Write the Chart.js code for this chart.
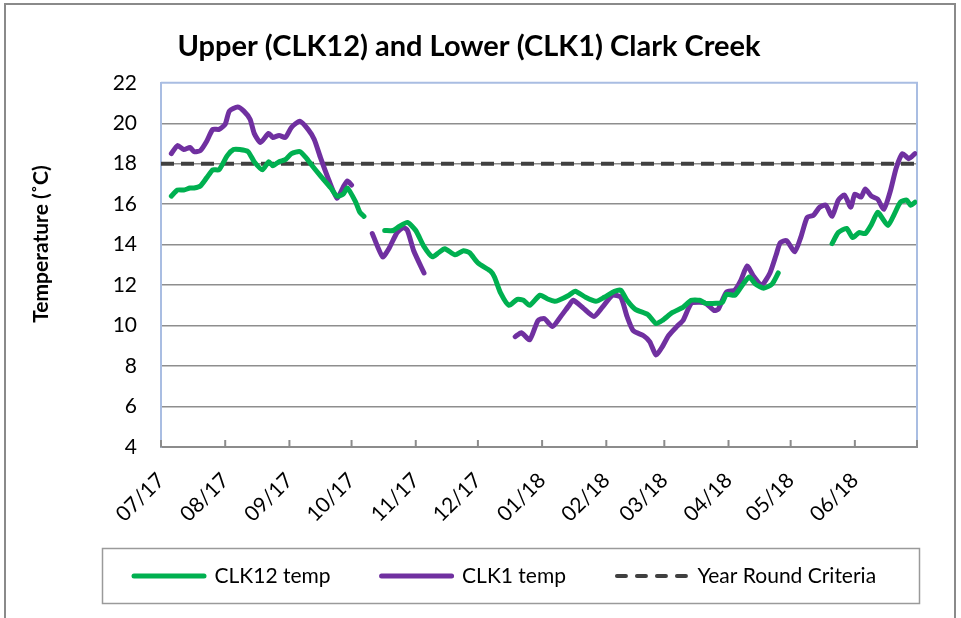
<!DOCTYPE html>
<html>
<head>
<meta charset="utf-8">
<script src="https://cdn.jsdelivr.net/npm/chart.js@4.4.1/dist/chart.umd.min.js"></script>
<style>
  html, body { margin: 0; padding: 0; background: #fff; }
</style>
</head>
<body>
<canvas id="myChart" width="961" height="618"></canvas>
<script>
// x values are days since 07/01/2017, null temp = gap in the record
const monthLabels = ['07/17', '08/17', '09/17', '10/17', '11/17', '12/17', '01/18', '02/18', '03/18', '04/18', '05/18', '06/18', ''];
const monthStarts = [0, 31, 62, 92, 123, 153, 184, 215, 243, 274, 304, 335, 365];

const clk12Days = [5, 8, 11, 14, 16, 19, 22, 25, 28, 32, 35, 38, 42, 45, 49, 52, 54, 57, 60, 63, 67, 70, 73, 77, 82, 85, 88, 90, 94, 96, 98,
  103,
  108, 112, 115, 119, 123, 127, 131, 134, 137, 142, 146, 149, 153, 159, 161, 164, 168, 172, 175, 178, 183, 187, 190, 192, 197, 200,
  205, 210, 214, 219, 222, 225, 229, 235, 239, 242, 247, 252, 256, 260, 263, 268, 271, 273, 277, 280, 284, 287, 291, 295, 298,
  310,
  324, 327, 331, 334, 337, 340, 343, 346, 348, 351, 354, 357, 360, 362, 364];
const clk12Temp = [16.4, 16.7, 16.7, 16.8, 16.8, 16.9, 17.3, 17.7, 17.7, 18.4, 18.7, 18.7, 18.6, 18.1, 17.7, 18.1, 17.9, 18.1, 18.2, 18.5, 18.6, 18.3, 17.9, 17.4, 16.8, 16.4, 16.5, 16.8, 16.1, 15.6, 15.4,
  null,
  14.7, 14.7, 14.9, 15.1, 14.7, 13.9, 13.4, 13.6, 13.8, 13.5, 13.7, 13.6, 13.1, 12.7, 12.4, 11.6, 11.0, 11.3, 11.25, 11.0, 11.5, 11.3, 11.2, 11.25, 11.5, 11.7,
  11.4, 11.2, 11.4, 11.7, 11.75, 11.25, 10.8, 10.55, 10.1, 10.25, 10.65, 10.9, 11.25, 11.25, 11.1, 11.1, 11.15, 11.55, 11.5, 11.9, 12.4, 12.05, 11.85, 12.05, 12.6,
  null,
  14.05, 14.6, 14.8, 14.35, 14.6, 14.55, 15.0, 15.6, 15.35, 14.95, 15.5, 16.1, 16.2, 15.95, 16.1];

const clk1Days = [5, 8, 11, 14, 16, 19, 22, 25, 28, 31, 33, 37, 40, 43, 45, 48, 52, 54, 57, 60, 63, 67, 71, 74, 77, 81, 85, 88, 90, 92,
  97,
  102, 107, 110, 114, 117, 119, 122, 127,
  150,
  171, 174, 178, 182, 185, 189, 193, 197, 199, 204, 209, 213, 218, 222, 225, 228, 233, 236, 239, 242, 245, 249, 252, 256, 260, 263,
  267, 269, 273, 277, 280, 283, 286, 290, 294, 297, 299, 302, 306, 309, 312, 315, 318, 321, 324, 327, 330, 333, 335, 338, 340, 343,
  346, 349, 352, 355, 358, 361, 364];
const clk1Temp = [18.5, 18.9, 18.7, 18.8, 18.6, 18.65, 19.1, 19.7, 19.7, 19.95, 20.6, 20.8, 20.6, 20.2, 19.5, 19.05, 19.5, 19.3, 19.4, 19.3, 19.8, 20.1, 19.7, 19.2, 18.3, 17.2, 16.3, 16.85, 17.15, 16.95,
  null,
  14.55, 13.4, 13.8, 14.6, 14.85, 14.7, 13.7, 12.6,
  null,
  9.45, 9.65, 9.3, 10.25, 10.35, 9.95, 10.45, 11.0, 11.25, 10.85, 10.45, 10.9, 11.5, 11.4, 10.45, 9.75, 9.5, 9.2, 8.55, 8.95, 9.5, 9.95, 10.25, 11.1, 11.15, 11.1,
  10.75, 10.8, 11.65, 11.75, 12.25, 12.95, 12.45, 12.0, 12.6, 13.5, 14.1, 14.2, 13.65, 14.4, 15.35, 15.45, 15.85, 15.95, 15.4, 16.2, 16.45, 15.85, 16.5, 16.35, 16.75, 16.4,
  16.25, 15.75, 16.6, 17.8, 18.5, 18.25, 18.5];

const criteriaDays = [0, 365];
const criteriaTemp = [18, 18];

const yTitle = 'Temperature (˚C)';
const FONT = 'Lato';

function toPoints(days, temps) {
  return days.map((d, i) => ({ x: d, y: temps[i] }));
}

// page frame, plot frame, inside tick marks, y title and the legend box
const framePlugin = {
  id: 'framePlugin',
  beforeDraw(chart) {
    const c = chart.ctx;
    c.save();
    c.fillStyle = '#fff';
    c.fillRect(0, 0, chart.width, chart.height);
    c.strokeStyle = '#8a8a8a';
    c.lineWidth = 2;
    c.strokeRect(5, 4, 950, 700);
    c.restore();
  },
  beforeDatasetsDraw(chart) {
    const c = chart.ctx;
    const a = chart.chartArea;
    const xs = chart.scales.x;
    c.save();
    c.strokeStyle = '#a9bde2';
    c.lineWidth = 2;
    c.beginPath();
    c.moveTo(a.left, a.top);
    c.lineTo(a.right, a.top);
    c.lineTo(a.right, a.bottom);
    c.stroke();
    c.strokeStyle = '#8c8c8c';
    c.beginPath();
    monthStarts.forEach(d => {
      const px = xs.getPixelForValue(d);
      c.moveTo(px, a.bottom);
      c.lineTo(px, a.bottom - 7);
    });
    c.stroke();
    c.restore();
  },
  afterLayout(chart) {
    // excel places the legend entries right of centre and a bit higher
    const lg = chart.legend;
    const pad = lg.options.labels.padding;
    const startX = (lg.left + pad + lg.right - lg.lineWidths[0]) / 2;
    const dx = 134 - startX;
    lg.left += dx;
    lg.right += dx;
    const dy = 576 - (lg.top + pad + lg.options.labels.font.size / 2);
    lg.top += dy;
    lg.bottom += dy;
  },
  afterDraw(chart) {
    const c = chart.ctx;
    c.save();
    c.strokeStyle = '#9a9a9a';
    c.lineWidth = 1.5;
    c.strokeRect(102.5, 548.5, 817, 55);
    // axis title sits a little above the plot centre, as in the original
    c.translate(41, 244);
    c.rotate(-Math.PI / 2);
    c.fillStyle = '#000';
    c.font = 'bold 21px ' + FONT;
    c.textAlign = 'center';
    c.textBaseline = 'middle';
    c.fillText(yTitle, 0, 0);
    c.restore();
  }
};

const ctx = document.getElementById('myChart').getContext('2d');

const myChart = new Chart(ctx, {
  type: 'line',
  data: {
    datasets: [{
      label: 'CLK12 temp',
      data: toPoints(clk12Days, clk12Temp),
      borderColor: '#00b050',
      backgroundColor: '#00b050',
      borderWidth: 5,
      borderCapStyle: 'round',
      borderJoinStyle: 'round',
      pointRadius: 0,
      tension: 0.2,
      spanGaps: false
    }, {
      label: 'CLK1 temp',
      data: toPoints(clk1Days, clk1Temp),
      borderColor: '#7030a0',
      backgroundColor: '#7030a0',
      borderWidth: 5,
      borderCapStyle: 'round',
      borderJoinStyle: 'round',
      pointRadius: 0,
      tension: 0.2,
      spanGaps: false
    }, {
      label: 'Year Round Criteria',
      data: toPoints(criteriaDays, criteriaTemp),
      borderColor: '#404040',
      backgroundColor: '#404040',
      borderWidth: 4,
      borderDash: [13, 7],
      pointRadius: 0
    }]
  },
  options: {
    responsive: false,
    animation: false,
    devicePixelRatio: 1,
    layout: { padding: { left: 21, right: 44, top: 6, bottom: 14 } },
    scales: {
      x: {
        type: 'linear',
        min: 0,
        max: 365,
        afterBuildTicks: s => { s.ticks = monthStarts.map(v => ({ value: v })); },
        afterFit: s => { s.height = 75; },
        ticks: {
          autoSkip: false,
          minRotation: 45,
          maxRotation: 45,
          padding: 21,
          color: '#000',
          font: { family: FONT, size: 21 },
          callback: (v, i) => monthLabels[i]
        },
        grid: { display: false, drawTicks: false },
        border: { display: true, color: '#8c8c8c', width: 2 }
      },
      y: {
        min: 4,
        max: 22,
        afterFit: s => { s.width = 140; },
        ticks: {
          stepSize: 2,
          padding: 24,
          color: '#000',
          font: { family: FONT, size: 21 }
        },
        grid: {
          drawTicks: false,
          lineWidth: 1.5,
          color: c => (c.tick && c.tick.value === 22) ? 'rgba(0,0,0,0)' : '#8e8e8e'
        },
        border: { display: true, color: '#a9bde2', width: 2 }
      }
    },
    plugins: {
      title: {
        display: true,
        text: 'Upper (CLK12) and Lower (CLK1) Clark Creek',
        color: '#000',
        font: { family: FONT, size: 29, weight: 'bold' },
        padding: { top: 23, bottom: 19 }
      },
      legend: {
        position: 'bottom',
        labels: {
          usePointStyle: true,
          pointStyle: 'line',
          pointStyleWidth: 70,
          padding: 51,
          color: '#000',
          font: { family: FONT, size: 21 },
          generateLabels: chart => {
            const items = Chart.defaults.plugins.legend.labels.generateLabels(chart);
            items.forEach(item => {
              const ds = chart.data.datasets[item.datasetIndex];
              item.lineWidth = ds.borderWidth;
              item.lineCap = 'round';
              item.lineDash = ds.borderDash ? [9, 11] : [];
            });
            return items;
          }
        }
      },
      tooltip: { enabled: false }
    }
  },
  plugins: [framePlugin]
});
</script>
</body>
</html>
